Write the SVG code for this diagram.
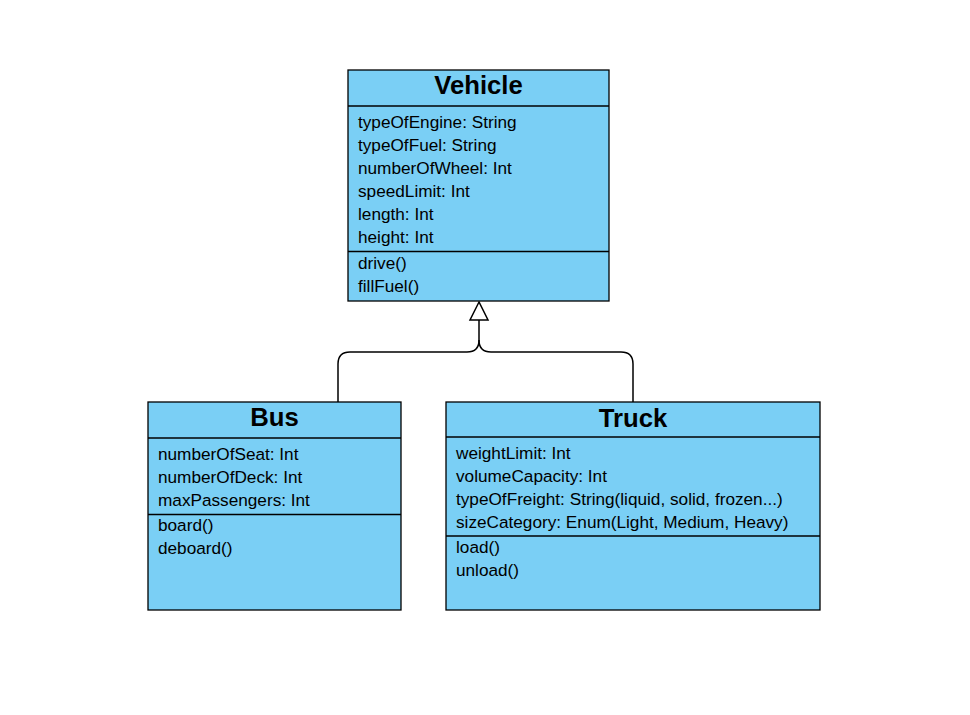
<svg xmlns="http://www.w3.org/2000/svg" width="970" height="715" viewBox="0 0 970 715">
<style>
.box{fill:#7ACFF5;stroke:#000;stroke-width:1.3}
.div{stroke:#000;stroke-width:1.3}
.t{font-family:"Liberation Sans",Arial,sans-serif;font-size:25.7px;font-weight:bold;text-anchor:middle;fill:#000}
.a{font-family:"Liberation Sans",Arial,sans-serif;font-size:17.2px;fill:#000}
.c{fill:none;stroke:#000;stroke-width:1.5}
</style>
<rect width="970" height="715" fill="#fff"/>
<g id="connectors">
<path class="c" d="M338,402 V364 Q338,352 350,352 H467 Q479,352 479,340 V320"/>
<path class="c" d="M633,402 V364 Q633,352 621,352 H491 Q479,352 479,340"/>
<polygon points="479,302 470,320 488,320" fill="#fff" stroke="#000" stroke-width="1.5"/>
</g>
<g id="vehicle">
<rect class="box" x="348" y="70" width="261" height="231"/>
<line class="div" x1="348" y1="106" x2="609" y2="106"/>
<line class="div" x1="348" y1="251.5" x2="609" y2="251.5"/>
<text class="t" x="478.5" y="94">Vehicle</text>
<text class="a" x="358" y="128">typeOfEngine: String</text>
<text class="a" x="358" y="151">typeOfFuel: String</text>
<text class="a" x="358" y="174">numberOfWheel: Int</text>
<text class="a" x="358" y="197">speedLimit: Int</text>
<text class="a" x="358" y="220">length: Int</text>
<text class="a" x="358" y="243">height: Int</text>
<text class="a" x="358" y="269">drive()</text>
<text class="a" x="358" y="292">fillFuel()</text>
</g>
<g id="bus">
<rect class="box" x="148" y="402" width="253" height="208"/>
<line class="div" x1="148" y1="438" x2="401" y2="438"/>
<line class="div" x1="148" y1="514.5" x2="401" y2="514.5"/>
<text class="t" x="274.5" y="426">Bus</text>
<text class="a" x="158" y="460">numberOfSeat: Int</text>
<text class="a" x="158" y="483">numberOfDeck: Int</text>
<text class="a" x="158" y="506">maxPassengers: Int</text>
<text class="a" x="158" y="531">board()</text>
<text class="a" x="158" y="554">deboard()</text>
</g>
<g id="truck">
<rect class="box" x="446" y="402" width="374" height="208"/>
<line class="div" x1="446" y1="437" x2="820" y2="437"/>
<line class="div" x1="446" y1="536" x2="820" y2="536"/>
<text class="t" x="633" y="427">Truck</text>
<text class="a" x="456" y="459">weightLimit: Int</text>
<text class="a" x="456" y="482">volumeCapacity: Int</text>
<text class="a" x="456" y="505">typeOfFreight: String(liquid, solid, frozen...)</text>
<text class="a" x="456" y="528">sizeCategory: Enum(Light, Medium, Heavy)</text>
<text class="a" x="456" y="553">load()</text>
<text class="a" x="456" y="576">unload()</text>
</g>
</svg>
